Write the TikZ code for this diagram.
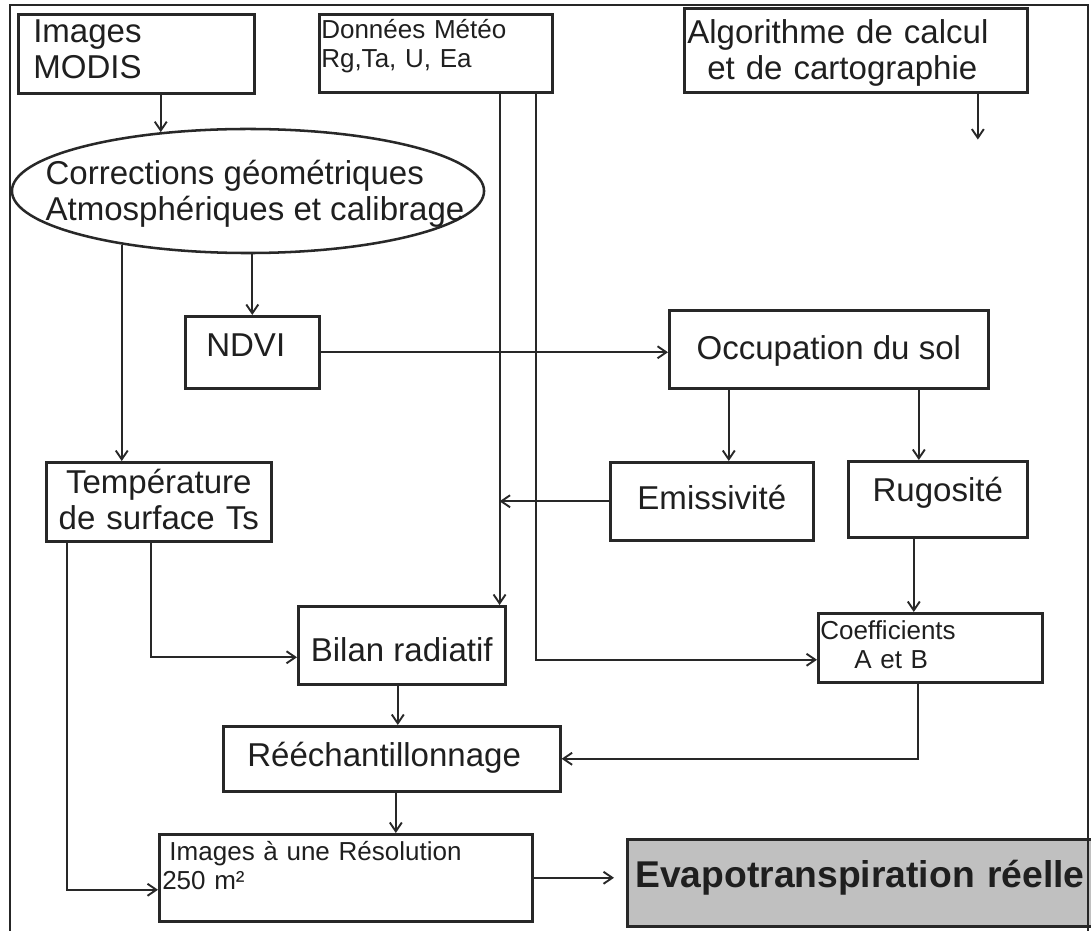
\documentclass[tikz,border=0pt]{standalone}
\usepackage{fontspec}
\setmainfont{Liberation Sans}
\usetikzlibrary{arrows.meta,positioning,calc,shapes.geometric}
\definecolor{LineGray}{RGB}{40,40,40}
\definecolor{ResultGray}{RGB}{192,192,192}
\newcommand{\boxfont}{\fontsize{23.5}{25.6}\selectfont}
\newcommand{\notefont}{\fontsize{18.5}{20.6}\selectfont}
\tikzset{
  stepbox/.style={draw=LineGray,line width=1.8pt,rectangle,anchor=north west,
    inner ysep=0pt,inner xsep=0pt,text=black!88,font=\boxfont},
  notebox/.style={stepbox,font=\notefont,align=left},
  corrshape/.style={draw=LineGray,line width=1.8pt,ellipse,inner sep=0pt,
    minimum width=11.8cm,minimum height=3.1cm},
  resultbox/.style={stepbox,fill=ResultGray,align=left,
    font=\fontsize{26.5}{30}\selectfont\bfseries},
  flowarrow/.style={-{Straight Barb[length=2.2mm,width=3mm]},
    line width=1.35pt,draw=LineGray},
}

\begin{document}
\begin{tikzpicture}[x=0.025cm,y=-0.025cm]
  \useasboundingbox (0,0) rectangle (1091,931);
  \clip (0,0) rectangle (1091,931);
  % top row
  \node[stepbox,align=left,inner xsep=0.375cm,text width=5.15cm,
    text height=0.7cm,text depth=1.275cm] (modis) at (17,13) {Images\\MODIS};
  \node[notebox,inner xsep=0.05cm,text width=5.725cm,
    text height=0.6cm,text depth=1.35cm] (meteo) at (318,13) {Données Météo\\Rg,Ta, U, Ea};
  \node[stepbox,align=left,inner xsep=0.075cm,text width=8.425cm,
    text height=0.875cm,text depth=1.225cm] (algo) at (683,7)
    {Algorithme de calcul\\\hspace*{0.5cm}et de cartographie};
  % corrections
  \node[corrshape] (corr) at (248,191) {};
  \node[font=\boxfont,align=left,text=black!88] (corrtext) at (255,194)
    {Corrections géométriques\\Atmosphériques et calibrage};
  % middle
  \node[stepbox,align=left,inner xsep=0.525cm,text width=2.3cm,
    text height=1.0cm,text depth=0.8cm] (ndvi) at (184,315) {NDVI};
  \node[stepbox,minimum width=7.975cm,
    text height=1.225cm,text depth=0.725cm] (occ) at (668,309) {Occupation du sol};
  \node[stepbox,minimum width=5.075cm,
    text height=1.175cm,text depth=0.775cm] (emis) at (609,461) {Emissivité};
  \node[stepbox,minimum width=4.475cm,
    text height=1.0cm,text depth=0.9cm] (rug) at (847,460) {Rugosité};
  \node[stepbox,align=center,text width=5.625cm,
    text height=0.775cm,text depth=1.2cm] (temp) at (45,461) {Température\\de surface Ts};
  \node[stepbox,minimum width=5.175cm,
    text height=1.375cm,text depth=0.575cm] (bilan) at (297,605) {Bilan radiatif};
  \node[notebox,inner xsep=0.05cm,text width=5.5cm,
    text height=0.65cm,text depth=1.075cm] (coef) at (817,612)
    {Coefficients\\\hspace*{0.85cm}A et B};
  % bottom
  \node[stepbox,align=left,inner xsep=0.6cm,text width=7.225cm,
    text height=1.0cm,text depth=0.625cm] (reech) at (222,725) {Rééchantillonnage};
  \node[notebox,inner xsep=0.075cm,text width=9.175cm,
    text height=0.65cm,text depth=1.525cm] (imres) at (158,833)
    {\hspace*{0.18cm}Images à une Résolution\\250 m²};
  \node[resultbox,inner xsep=0.2cm,text width=11.8cm,
    text height=1.2cm,text depth=0.975cm] (evapo) at (626,838) {Evapotranspiration réelle};

  \coordinate (meteoA) at ([xshift=-1.35cm]meteo.south east);
  \coordinate (meteoB) at ([xshift=-0.45cm]meteo.south east);
  \coordinate (algoout) at ([xshift=3.05cm,yshift=-1.15cm]algo.south);

  % connectors
  \draw[flowarrow] (modis.south -| corr.146) -- (corr.146);
  \draw[flowarrow] (algoout |- algo.south) -- (algoout);
  \draw[flowarrow] (corr.south -| ndvi.north) -- (ndvi.north);
  \draw[flowarrow] (corr.203) -- (corr.203 |- temp.north);
  \draw[flowarrow] (ndvi.east) -- (ndvi.east -| occ.west);
  \draw[flowarrow] (meteoA) -- (meteoA |- bilan.north);
  \draw[flowarrow] (meteoB) |- ([yshift=-0.3cm]coef.west);
  \draw[flowarrow] ([xshift=-2.5cm]occ.south) -- ([xshift=-2.5cm]occ.south |- emis.north);
  \draw[flowarrow] ([xshift=2.25cm]occ.south) -- ([xshift=2.25cm]occ.south |- rug.north);
  \draw[flowarrow] (emis.west) -- (emis.west -| meteoA);
  \draw[flowarrow] ([xshift=-0.6cm]rug.south) -- ([xshift=-0.6cm]rug.south |- coef.north);
  \draw[flowarrow] ([xshift=-0.2cm]temp.south) |- ([yshift=-0.3cm]bilan.west);
  \draw[flowarrow] ([xshift=-2.3cm]temp.south) |- ([yshift=-0.3cm]imres.west);
  \draw[flowarrow] ([xshift=-0.1cm]bilan.south) -- ([xshift=-0.1cm]bilan.south |- reech.north);
  \draw[flowarrow] ([xshift=-0.3cm]coef.south) |- (reech.east);
  \draw[flowarrow] ([xshift=0.1cm]reech.south) -- ([xshift=0.1cm]reech.south |- imres.north);
  \draw[flowarrow] (imres.east) -- ([xshift=-0.3cm]imres.east -| evapo.west);

  % frame
  \draw[line width=1.5pt,draw=black!85] (10,931) -- (10,5) -- (1088,5) -- (1088,931);
\end{tikzpicture}
\end{document}
